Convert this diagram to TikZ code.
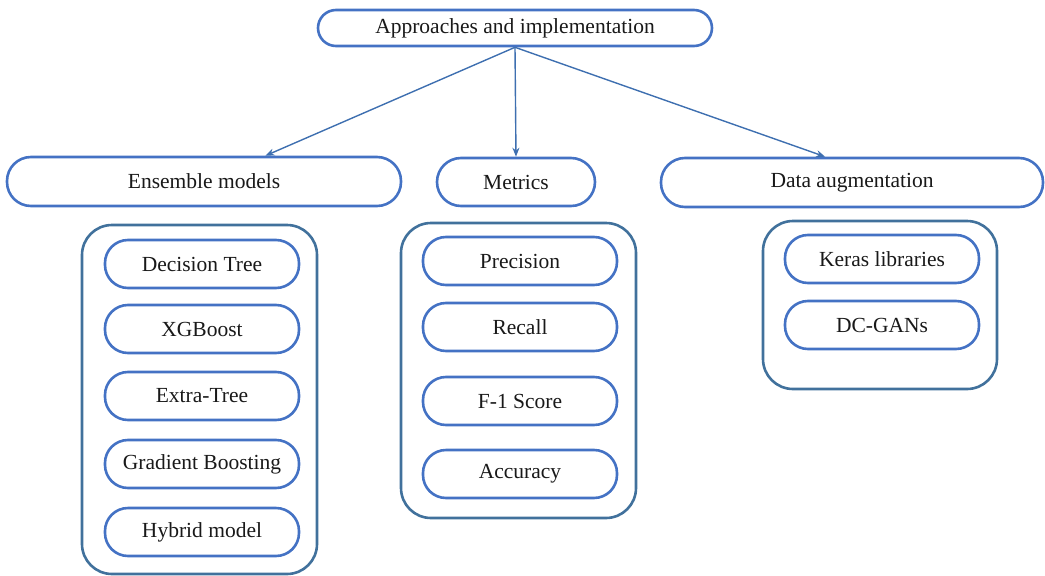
\documentclass[tikz,border=0pt]{standalone}
\usepackage{fontspec}
\setmainfont{Liberation Serif}
\usetikzlibrary{calc,arrows.meta}
\definecolor{ovalblue}{HTML}{4472C4}
\definecolor{boxblue}{HTML}{41719C}
\definecolor{arrowblue}{HTML}{3E6FB0}
\tikzset{
  oval/.style={draw=ovalblue, line width=2.6pt, fill=white, rounded corners=#1, inner sep=0pt, font=\fontsize{21.5}{24}\selectfont, text=black!90},
  oval/.default=18pt,
  item/.style={oval=23pt, minimum width=194pt, minimum height=48pt},
  container/.style={draw=boxblue, line width=2.6pt, rounded corners=30pt},
  conn/.style={draw=arrowblue, line width=1.4pt, -{Stealth[length=9pt,width=7pt]}}
}
\begin{document}
\begin{tikzpicture}[x=1pt,y=-1pt]
\useasboundingbox (0,0) rectangle (1045,576);
% top
\node[oval=18pt, minimum width=394pt, minimum height=36pt] (top) at (515,28) {Approaches and implementation};
% second level
\node[oval=24pt, minimum width=394pt, minimum height=49pt] (ens) at (204,181.5) {Ensemble models};
\node[oval=24pt, minimum width=158pt, minimum height=48pt] (met) at (516,182) {Metrics};
\node[oval=24pt, minimum width=382pt, minimum height=49pt] (dat) at (852,182.5) {Data augmentation};
% containers
\draw[container] (82,225) rectangle (317,574);
\draw[container] (401,223) rectangle (636,518);
\draw[container] (763,221) rectangle (997,389);
% left items
\node[item] (dt) at (202,264) {Decision Tree};
\node[item] (xg) at (202,329) {XGBoost};
\node[item] (et) at (202,396) {Extra-Tree};
\node[item] (gb) at (202,464) {Gradient Boosting};
\node[item] (hm) at (202,532) {Hybrid model};
% middle items
\node[item] (pr) at (520,261) {Precision};
\node[item] (rc) at (520,327) {Recall};
\node[item] (f1) at (520,401) {F-1 Score};
\node[item] (ac) at (520,474) {Accuracy};
% right items
\node[item] (kl) at (882,259) {Keras libraries};
\node[item] (dc) at (882,325) {DC-GANs};
% connectors
\coordinate (src) at (top.south);
\draw[conn] (src) -- ($(ens.north west)!0.655!(ens.north east)$);
\draw[conn] (src) -- (met.north);
\draw[conn] (src) -- ($(dat.north west)!0.43!(dat.north east)$);
\end{tikzpicture}
\end{document}
